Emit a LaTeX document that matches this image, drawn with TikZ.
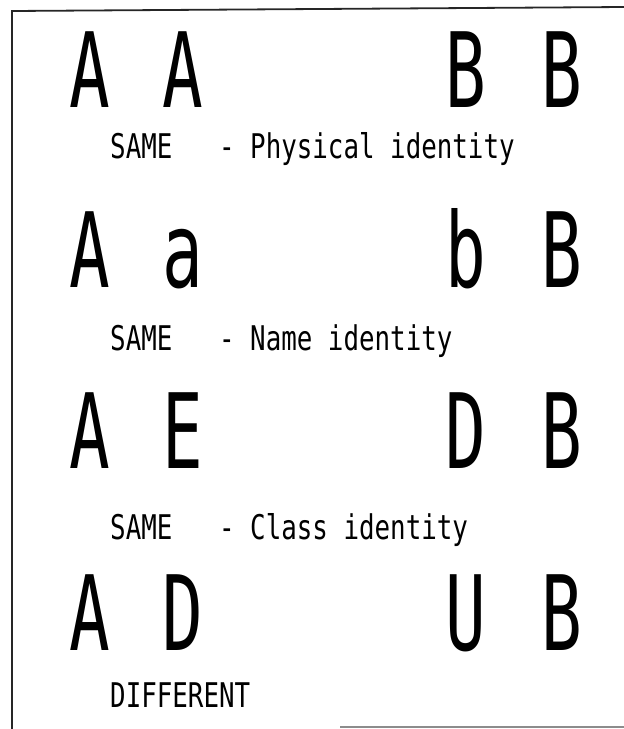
\documentclass[tikz,border=0pt]{standalone}
\usepackage{fontspec}
\usepackage{tikz}
\newfontfamily\bigfont[FakeStretch=0.65]{DejaVu Sans Mono}
\newfontfamily\printfont[FakeStretch=0.76]{DejaVu Sans Mono}

\begin{document}
\begin{tikzpicture}[
      x=1pt, y=-1pt,
      letter/.style={font=\bigfont\fontsize{104}{110}\selectfont, anchor=base, inner sep=0pt, text depth=0pt},
      caption/.style={font=\printfont\fontsize{34}{38}\selectfont, anchor=base west, inner sep=0pt},
      frame/.style={line width=1.8pt, draw=black!85}
    ]
    \useasboundingbox (0,0) rectangle (624,729);
    % frame of the scanned page
    \draw[frame] (12,729) -- (12,11) -- (624,7);
    \draw[line width=1.5pt, black!45] (340,727) -- (624,727);
    % row 1
    \node[letter] (p1) at (89.5,107) {A};
    \node[letter] (p2) at (183,107) {A};
    \node[letter] (p3) at (466,107) {B};
    \node[letter] (p4) at (562,107) {B};
    \node[caption] (physical) at (110,158) {SAME~~~- Physical identity};
    % row 2
    \node[letter] (n1) at (89.5,287) {A};
    \node[letter] (n2) at (183,287) {a};
    \node[letter] (n3) at (466,287) {b};
    \node[letter] (n4) at (562,287) {B};
    \node[caption] (name) at (110,350) {SAME~~~- Name identity};
    % row 3
    \node[letter] (c1) at (89.5,468) {A};
    \node[letter] (c2) at (183,468) {E};
    \node[letter] (c3) at (466,468) {D};
    \node[letter] (c4) at (562,468) {B};
    \node[caption] (class) at (110,539) {SAME~~~- Class identity};
    % row 4
    \node[letter] (d1) at (89.5,650) {A};
    \node[letter] (d2) at (183,650) {D};
    \node[letter] (d3) at (466,650) {U};
    \node[letter] (d4) at (562,650) {B};
    \node[caption] (different) at (110,707) {DIFFERENT};
\end{tikzpicture}
\end{document}
